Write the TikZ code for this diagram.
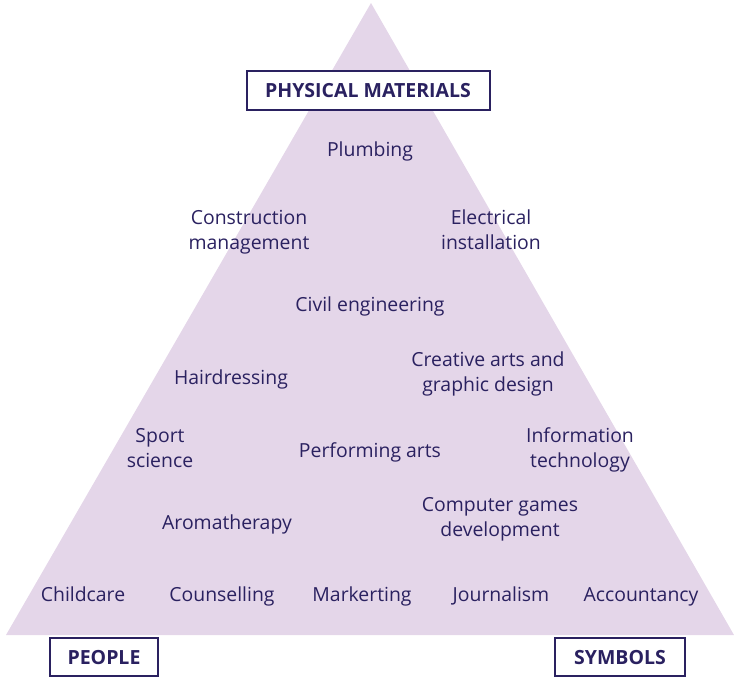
\documentclass[tikz,border=0pt]{standalone}
\usepackage{fontspec}
\setmainfont{Open Sans}
\usepackage{xcolor}
\definecolor{lilac}{HTML}{E4D6E9}
\definecolor{ink}{HTML}{2A2160}

\begin{document}
\begin{tikzpicture}[x=1pt,y=-1pt,
  job/.style={text=ink,font=\fontsize{19.4}{25}\selectfont,align=center,inner sep=0},
  word/.style={job,anchor=base},
  pair/.style={job,yshift=-2pt},
  corner/.style={draw=ink,line width=2pt,fill=white,text=ink,font=\fontsize{19.5}{22}\selectfont\bfseries,inner sep=0,text height=14pt,text depth=0pt}]
\useasboundingbox (0,0) rectangle (734,678);
\fill[lilac] (6,635)--(371,3)--(734,635)--cycle;
% corner labels
\node[corner,minimum width=243pt,minimum height=39pt] (phys) at (368,90) {PHYSICAL MATERIALS};
\node[corner,minimum width=108pt,minimum height=38pt] (people) at (104,657) {PEOPLE};
\node[corner,minimum width=130pt,minimum height=38pt] (symb) at (620,657) {SYMBOLS};
% subjects
\node[word] (plumb) at (370,156) {Plumbing};
\node[pair] (constr) at (249,230) {Construction\\management};
\node[pair] (elec) at (491,228) {Electrical\\installation};
\node[word] (civil) at (370,311) {Civil engineering};
\node[word] (hair) at (231,384) {Hairdressing};
\node[pair] (creative) at (488,372) {Creative arts and\\graphic design};
\node[pair] (sport) at (160,446.5) {Sport\\science};
\node[word] (perf) at (370,457) {Performing arts};
\node[pair] (info) at (580,448) {Information\\technology};
\node[word] (aroma) at (227,529) {Aromatherapy};
\node[pair] (games) at (500,517) {Computer games\\development};
\node[word] (child) at (83,601) {Childcare};
\node[word] (couns) at (222,601) {Counselling};
\node[word] (mark) at (362,601) {Markerting};
\node[word] (journ) at (501,601) {Journalism};
\node[word] (acct) at (641,601) {Accountancy};
\end{tikzpicture}
\end{document}
